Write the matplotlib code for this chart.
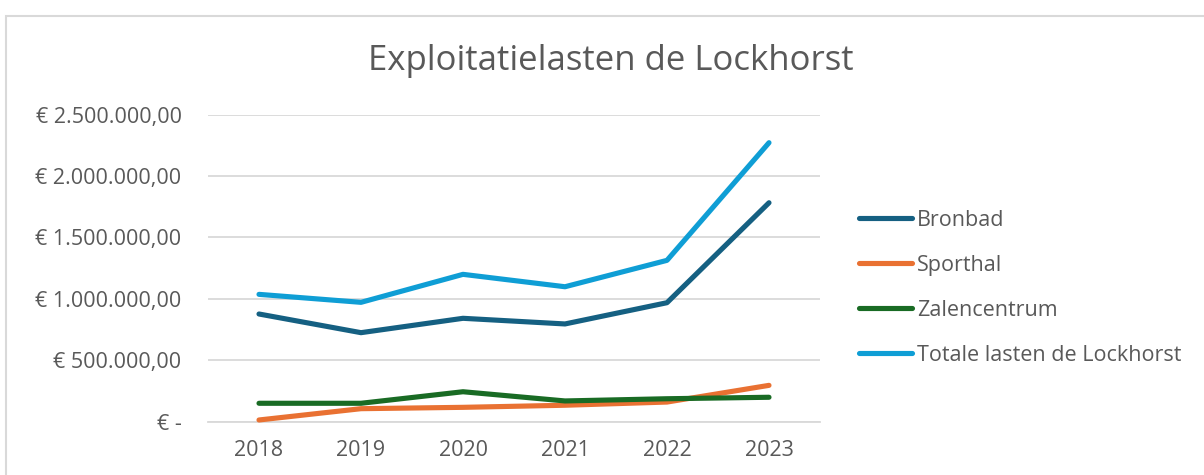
import matplotlib
matplotlib.use('Agg')
import matplotlib.pyplot as plt
from matplotlib.patches import Rectangle
from matplotlib.ticker import FuncFormatter, MultipleLocator

plt.rcParams['font.family'] = ['Open Sans', 'DejaVu Sans']

# data
jaren = ['2018', '2019', '2020', '2021', '2022', '2023']
bronbad = [877000, 725000, 842000, 796000, 969000, 1783000]
sporthal = [14000, 106000, 117000, 134000, 160000, 296000]
zalencentrum = [150000, 150000, 244000, 169000, 187000, 199000]
totaal = [1037000, 972000, 1200000, 1099000, 1314000, 2272000]

series = [('Bronbad', bronbad, '#156082'),
          ('Sporthal', sporthal, '#E97132'),
          ('Zalencentrum', zalencentrum, '#196B24'),
          ('Totale lasten de Lockhorst', totaal, '#0F9ED5')]

tekst_kleur = '#595959'
W, H = 1204, 475


def euro(v, pos=None):
    """ accounting-notatie zoals in Excel """
    if v == 0:
        return '€ -'
    s = f'{v:,.2f}'.replace(',', 'X').replace('.', ',').replace('X', '.')
    return '€ ' + s


fig = plt.figure(figsize=(W / 100, H / 100), dpi=100)
# grijze kaderlijn van het grafiekgebied (loopt buiten beeld door)
fig.patches.append(Rectangle((6 / W, -0.2), 1.2, 1.2 - 16 / H, transform=fig.transFigure,
                             fill=False, edgecolor='#D9D9D9', linewidth=1.5))

ax = fig.add_axes([208 / W, 1 - 421.7 / H, (820 - 208) / W, (421.7 - 114.7) / H])
x = list(range(len(jaren)))
for naam, waarden, kleur in series:
    ax.plot(x, waarden, color=kleur, linewidth=3.7, label=naam,
            solid_capstyle='round', solid_joinstyle='round', clip_on=False, zorder=3)

ax.set_ylim(0, 2500000)
ax.set_xlim(-0.5, 5.5)
ax.yaxis.set_major_locator(MultipleLocator(500000))
ax.yaxis.set_major_formatter(FuncFormatter(euro))
ax.set_xticks(x)
ax.set_xticklabels(jaren)
ax.grid(axis='y', color='#D9D9D9', linewidth=1.3)
ax.set_axisbelow(True)
for s in ['top', 'right', 'left']:
    ax.spines[s].set_visible(False)
ax.spines['bottom'].set_color('#D9D9D9')
ax.spines['bottom'].set_linewidth(1.3)
ax.tick_params(axis='both', length=0, labelsize=15.5, colors=tekst_kleur)
ax.tick_params(axis='y', pad=19)
ax.tick_params(axis='x', pad=13)

fig.text(611 / W, 1 - 61 / H, 'Exploitatielasten de Lockhorst', ha='center', va='center',
         fontsize=25, color=tekst_kleur)

leg = fig.legend(loc='upper left', bbox_to_anchor=(850 / W, 1 - 201 / H), frameon=False,
                 fontsize=15.5, handlelength=2.5, handletextpad=0.22, labelspacing=1.12,
                 borderaxespad=0)
for t in leg.get_texts():
    t.set_color(tekst_kleur)

fig.savefig('out.png', dpi=100)
